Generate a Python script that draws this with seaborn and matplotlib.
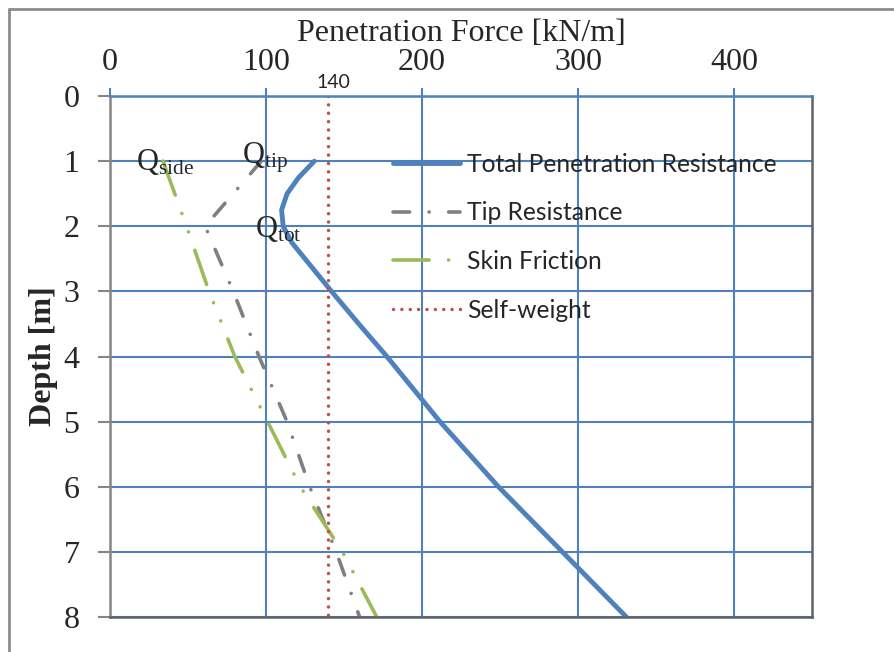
import matplotlib
matplotlib.use("Agg")
import matplotlib.pyplot as plt
import seaborn as sns
import pandas as pd
from matplotlib.lines import Line2D

# ---- data ----
depth_total = [1.0, 1.25, 1.5, 1.75, 2.0, 2.25, 2.5, 2.75, 3.0, 3.5, 4.0, 5.0, 6.0, 7.0, 8.0]
total_force = [131, 121, 113.5, 110, 111, 116.5, 125, 133.5, 142, 159.5, 177.5, 211.5, 249, 290, 331]
depth = [1, 2, 3, 4, 5, 6, 7, 8]
tip_force = [97, 61, 79, 95.5, 113.5, 128, 145, 160]
skin_force = [34, 49, 63.5, 80, 101, 122, 149, 171]
selfweight_depth = [0, 8]
selfweight_force = [140, 140]
x_ticks = [0, 100, 200, 300, 400]
y_ticks = [0, 1, 2, 3, 4, 5, 6, 7, 8]
series_labels = ["Total Penetration Resistance", "Tip Resistance", "Skin Friction", "Self-weight"]

BLUE = "#4F81BD"
GREY = "#808080"
GREEN = "#9BBB59"
RED = "#C0504D"
SERIF = "Liberation Serif"

sns.set_theme(style="white")
plt.rcParams["font.family"] = [SERIF, "DejaVu Serif"]
plt.rcParams["mathtext.fontset"] = "custom"
plt.rcParams["mathtext.rm"] = SERIF

fig = plt.figure(figsize=(8.95, 6.52), dpi=100)
ax = fig.add_axes([110 / 895, 1 - 617 / 652, (812 - 110) / 895, (617 - 96) / 652])

df_total = pd.DataFrame({"force": total_force, "depth": depth_total})
df_tip = pd.DataFrame({"force": tip_force, "depth": depth})
df_skin = pd.DataFrame({"force": skin_force, "depth": depth})
df_sw = pd.DataFrame({"force": selfweight_force, "depth": selfweight_depth})

sns.lineplot(data=df_total, x="force", y="depth", sort=False, estimator=None, ax=ax,
             color=BLUE, linewidth=3.5, label=series_labels[0], solid_capstyle="round",
             solid_joinstyle="round")
sns.lineplot(data=df_tip, x="force", y="depth", sort=False, estimator=None, ax=ax,
             color=GREY, linewidth=2.6, label=series_labels[1],
             linestyle=(0, (4.6, 5.4, 0.01, 5.4)), dash_capstyle="round")
sns.lineplot(data=df_skin, x="force", y="depth", sort=False, estimator=None, ax=ax,
             color=GREEN, linewidth=2.6, label=series_labels[2],
             linestyle=(0, (10.0, 5.4, 0.01, 5.4, 0.01, 5.4)), dash_capstyle="round")
sns.lineplot(data=df_sw, x="force", y="depth", sort=False, estimator=None, ax=ax,
             color=RED, linewidth=2.5, label=series_labels[3],
             linestyle=(0, (0.01, 2.4)), dash_capstyle="round")

ax.set_xlim(0, 450)
ax.set_ylim(8, 0)
ax.set_xticks(x_ticks)
ax.set_yticks(y_ticks)
ax.xaxis.tick_top()
ax.set_xlabel("")
ax.text(0.5, (96 - 41) / 521 + 1, "Penetration Force [kN/m]", transform=ax.transAxes,
        fontsize=23, ha="center", va="baseline")
ax.set_ylabel("Depth [m]", fontsize=23, fontweight="bold", labelpad=4)
ax.tick_params(axis="x", top=True, bottom=False, direction="out", length=6, width=1.5,
               color=BLUE, labelsize=23, pad=8)
ax.tick_params(axis="y", left=True, direction="out", length=9, width=1.5,
               color="#868686", labelsize=23, pad=13)

ax.grid(True, color=BLUE, linewidth=1.5)
ax.set_axisbelow(True)
for side, col in [("top", BLUE), ("left", "#868686"), ("bottom", "#5F6368"), ("right", "#5F6368")]:
    ax.spines[side].set_color(col)
    ax.spines[side].set_linewidth(1.8)
    ax.spines[side].set_visible(True)

# annotations
ax.text(16.7, 1.14, r"$\mathregular{Q_{side}}$", fontsize=22, va="baseline", ha="left")
ax.text(84.6, 1.03, r"$\mathregular{Q_{tip}}$", fontsize=22, va="baseline", ha="left")
ax.text(93, 2.17, r"$\mathregular{Q_{tot}}$", fontsize=22, va="baseline", ha="left")
ax.text(143, -0.07, "140", fontsize=14, family="Lato", ha="center", va="bottom", clip_on=False)

leg = ax.legend(loc="upper left", bbox_to_anchor=(383 / 895, 1 - 143 / 652),
                bbox_transform=fig.transFigure, frameon=False, prop={"family": "Lato", "size": 17.7},
                handlelength=2.75, handletextpad=0.28, labelspacing=1.04, borderaxespad=0)

# outer frame
fig.add_artist(Line2D([9 / 895, 1.0], [1 - 9 / 652] * 2, transform=fig.transFigure,
                      color="#8C8C8C", linewidth=2))
fig.add_artist(Line2D([9 / 895] * 2, [0, 1 - 9 / 652], transform=fig.transFigure,
                      color="#8C8C8C", linewidth=2))

fig.savefig("out.png", dpi=100)
